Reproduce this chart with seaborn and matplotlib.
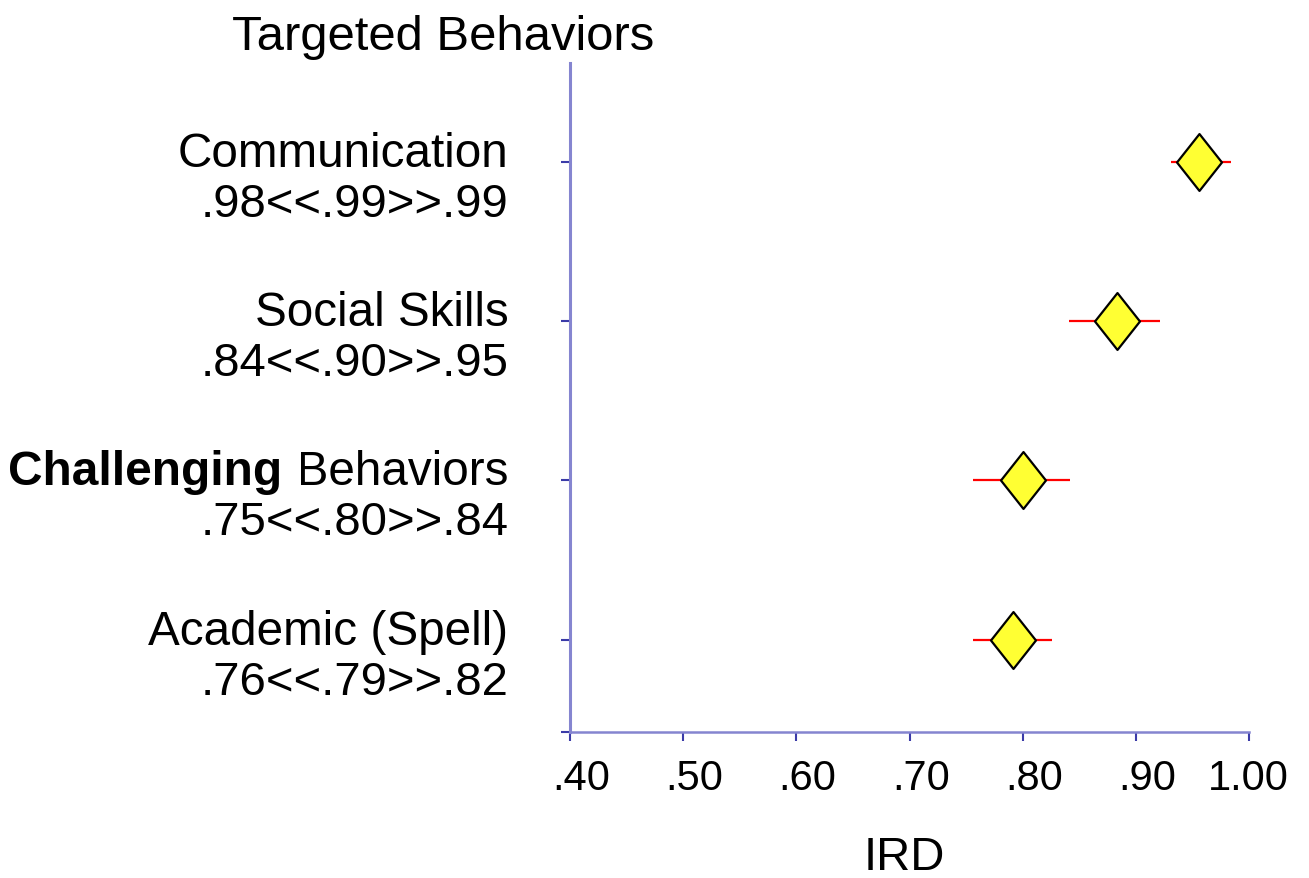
import numpy as np
import pandas as pd
import matplotlib
matplotlib.use("Agg")
import matplotlib.pyplot as plt
from matplotlib.path import Path
from matplotlib.transforms import ScaledTranslation
import seaborn as sns

# data
behaviors = ["Communication", "Social Skills", "Challenging Behaviors", "Academic (Spell)"]
ci_text = [".98<<.99>>.99", ".84<<.90>>.95", ".75<<.80>>.84", ".76<<.79>>.82"]
ird = [0.956, 0.883, 0.800, 0.791]
ird_low = [0.931, 0.841, 0.756, 0.756]
ird_high = [0.984, 0.921, 0.842, 0.826]
xticks = [0.40, 0.50, 0.60, 0.70, 0.80, 0.90, 1.00]
xtick_labels = [".40", ".50", ".60", ".70", ".80", ".90", "1.00"]

df = pd.DataFrame({"behavior": behaviors, "ird": ird, "low": ird_low, "high": ird_high})
df["row"] = np.arange(len(df))

sns.set_style("white")
plt.rcParams["font.family"] = ["Liberation Sans", "DejaVu Sans"]
plt.rcParams["text.color"] = "black"

fig = plt.figure(figsize=(13.09, 8.79), dpi=100)
ax = fig.add_axes([0.4355, 0.1661, 0.5187, 0.7611])

axis_col = "#8585d0"
tick_col = "#3b3ba8"

# red interval lines
ax.hlines(df["row"], df["low"], df["high"], color="red", lw=1.6, zorder=2)

# yellow diamonds
diamond = Path([(0, 1), (0.79, 0), (0, -1), (-0.79, 0), (0, 1)],
               [Path.MOVETO, Path.LINETO, Path.LINETO, Path.LINETO, Path.CLOSEPOLY])
sns.scatterplot(data=df, x="ird", y="row", marker=diamond, s=41**2,
                color="#ffff33", edgecolor="black", linewidth=1.6, zorder=3, ax=ax)

ax.set_xlim(0.40, 1.00)
ax.set_ylim(3.58, -0.62)

# spines
for side in ["top", "right"]:
    ax.spines[side].set_visible(False)
ax.spines["left"].set_color(axis_col)
ax.spines["left"].set_linewidth(2.2)
ax.spines["bottom"].set_color(axis_col)
ax.spines["bottom"].set_linewidth(1.8)

# x ticks
ax.set_xticks(xticks, labels=xtick_labels)
ax.tick_params(axis="x", direction="out", length=6.5, width=1.5, color=tick_col,
               labelsize=30, labelcolor="black", pad=12, bottom=True)
for lab in ax.get_xticklabels():
    lab.set_ha("right")
    lab.set_transform(lab.get_transform() + ScaledTranslation(0.40, 0, fig.dpi_scale_trans))

# y ticks (labels drawn as annotations)
ax.set_yticks(df["row"], labels=[""] * len(df))
ax.set_yticks([3.58], minor=True)
ax.tick_params(axis="y", which="both", direction="out", length=6.5, width=1.5,
               color=tick_col, left=True)

for i, row in df.iterrows():
    ax.annotate(row["behavior"], xy=(0, row["row"]), xycoords=("axes fraction", "data"),
                xytext=(-44.5, -3), textcoords="offset points",
                ha="right", va="baseline", fontsize=34.3)
    ax.annotate(ci_text[i], xy=(0, row["row"]), xycoords=("axes fraction", "data"),
                xytext=(-44.5, -39), textcoords="offset points",
                ha="right", va="baseline", fontsize=34)

# bold overlay on the third row
ax.annotate("Challenging ", xy=(8 / 1309, 2), xycoords=("figure fraction", "data"),
            xytext=(0, -3), textcoords="offset points", ha="left", va="baseline",
            fontsize=34.5, fontweight="bold",
            bbox=dict(boxstyle="square,pad=0.12", fc="white", ec="none"))

ax.set_xlabel("")
ax.set_ylabel("")

fig.text(443 / 1309, 1 - 50 / 879, "Targeted Behaviors", ha="center", va="baseline", fontsize=35.3)
fig.text(904 / 1309, 1 - 870 / 879, "IRD", ha="center", va="baseline", fontsize=34)

fig.savefig("out.png", dpi=100)
